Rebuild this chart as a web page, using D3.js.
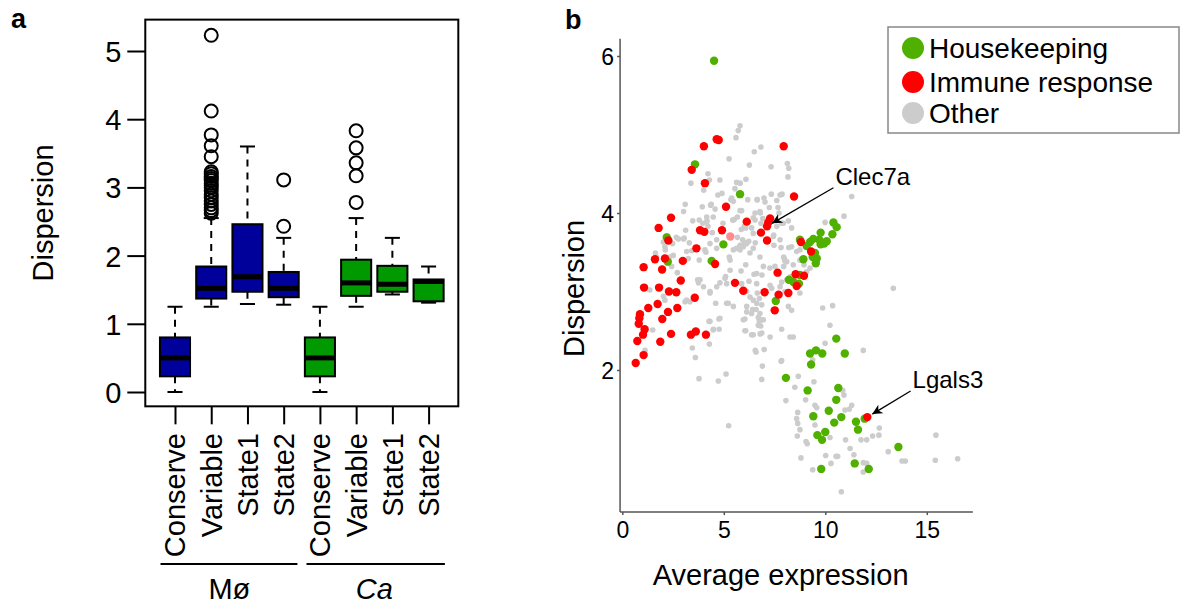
<!DOCTYPE html>
<html><head><meta charset="utf-8">
<script src="https://cdn.jsdelivr.net/npm/d3@7"></script>
<style>body{margin:0;background:#fff}svg{display:block}text{font-family:"Liberation Sans",Arial,Helvetica,sans-serif}</style>
</head><body><svg id="c" width="1183" height="605"></svg>
<script>
// ---------- Panel a data ----------
const boxCategories = ["Conserve","Variable","State1","State2","Conserve","Variable","State1","State2"];
const boxLow    = [0.00,1.25,1.29,1.28,0.00,1.25,1.43,1.31];
const boxQ1     = [0.23,1.37,1.47,1.39,0.23,1.41,1.47,1.33];
const boxMedian = [0.50,1.52,1.69,1.52,0.50,1.60,1.58,1.62];
const boxQ3     = [0.80,1.84,2.46,1.76,0.80,1.94,1.85,1.65];
const boxHigh   = [1.25,2.55,3.60,2.26,1.25,2.55,2.26,1.84];
const boxOutliers = [
  [],
  [2.62,2.66,2.70,2.75,2.80,2.85,2.90,2.95,3.00,3.03,3.06,3.10,3.13,3.16,3.20,3.23,3.45,3.61,3.77,4.12,5.23],
  [],
  [2.43,3.11],
  [],
  [2.78,3.17,3.36,3.58,3.83],
  [],
  []
];
const yTicksA = [0,1,2,3,4,5];
const groupLabels = ["Mø","Ca"];

// ---------- Panel b data ----------
const housekeeping = [[4.52,5.94],[3.58,4.62],[5.80,4.24],[2.19,3.69],[4.98,3.60],[4.40,3.39],[2.24,3.38],
[10.40,3.88],[10.56,3.82],[10.35,3.73],[10.07,3.64],[9.94,3.61],[9.77,3.60],[9.70,3.66],[9.77,3.75],[9.41,3.67],[9.25,3.63],[9.08,3.58],[9.49,3.49],[9.58,3.42],[9.38,3.44],[9.53,3.36],[8.92,3.41],[8.75,3.66],
[8.21,3.15],[8.43,3.12],[8.70,3.10],[8.75,3.21],[7.56,2.88],[10.54,2.40],
[9.25,2.21],[9.54,2.25],[9.85,2.21],[10.96,2.21],[9.30,2.07],[8.06,1.90],[9.13,1.74],[10.64,1.77],[10.54,1.62],[10.17,1.48],[9.41,1.41],[10.79,1.40],[10.44,1.33],[11.51,1.34],[11.61,1.24],[11.94,1.38],[10.00,1.21],[9.61,1.17],[9.84,1.11],[13.60,1.02],[11.45,0.81],[9.80,0.74],[12.14,0.74]];
const immune = [[4.65,4.94],[4.75,4.93],[4.02,4.85],[7.95,4.85],[3.42,4.55],[4.07,4.38],[8.46,4.21],[5.11,4.08],[2.40,3.94],[1.79,3.81],[3.83,3.78],[4.04,3.76],[4.91,3.78],[6.13,3.89],[7.28,3.93],[7.19,3.88],[7.13,3.83],[6.83,3.75],[7.13,3.65],[2.27,3.65],[3.65,3.55],[8.80,3.63],[9.30,3.51],[4.57,3.35],
[2.10,3.42],[1.61,3.41],[1.05,3.31],[1.96,3.28],[2.98,3.39],[2.88,3.14],[1.07,3.05],[1.81,3.05],[2.30,3.00],[2.66,2.99],[3.57,2.92],[1.74,2.84],[1.28,2.79],[2.71,2.79],[2.25,2.74],[1.97,2.65],[0.87,2.71],[0.84,2.66],[0.81,2.59],[1.10,2.52],[1.02,2.45],[0.74,2.37],[1.87,2.36],[2.40,2.46],[3.38,2.45],[3.62,2.49],[4.12,2.45],[1.05,2.19],[0.66,2.09],
[7.65,3.24],[5.55,3.11],[5.96,3.01],[7.01,2.99],[7.70,2.96],[8.18,2.98],[8.54,3.22],[8.95,3.20],[8.59,3.07],[7.51,2.76],[12.07,1.40]];
const immuneFaint = [[5.32,3.70]];
const other = [[5.80,5.11],[5.71,5.05],[5.60,4.96],[6.83,4.84],[6.50,4.78],[5.26,4.69],[7.33,4.59],[8.13,4.63],[8.20,4.57],[8.16,4.46],[6.26,4.61],[4.22,4.50],[4.29,4.42],[3.38,4.38],[4.01,4.29],[4.81,4.42],[5.63,4.39],[5.81,4.38],[5.55,4.31],[4.71,4.23],[4.91,4.25],[5.35,4.17],[4.38,4.11],[3.94,4.08],[3.10,4.11],[3.02,4.02],[4.57,4.05],[5.80,4.03],[6.18,4.17],[6.64,4.17],[6.98,4.19],[7.34,4.24],[7.77,4.23],[7.87,4.24],[7.24,4.07],[7.67,4.07],[7.72,4.00],[6.80,4.00],[6.45,3.94],[6.92,3.93],[5.44,3.91],[5.52,3.92],[4.96,3.87],[3.47,3.90],[3.79,3.91],[4.17,3.90],[4.22,3.83],[4.43,3.75],[3.12,3.78],[3.02,3.67],[3.30,3.62],[2.48,3.61],[2.66,3.69],[1.63,3.49],[2.12,3.53],[5.67,3.69],[5.86,3.79],[6.01,3.83],[4.65,3.66],[4.65,3.55],[5.80,3.53],[5.96,3.57],[6.04,3.62],[6.23,3.64],[6.55,3.62],[7.46,3.72],[7.82,3.56],[8.20,3.56],[4.12,3.50],[3.42,3.52],[5.27,3.44],[6.09,4.43],
[11.30,4.21],[10.92,3.96],[9.99,3.88],[13.35,3.04],[9.87,2.79],[10.36,2.82],[10.23,2.57],[7.95,3.44],[8.01,3.39],[7.95,3.32],[8.75,3.53],
[5.39,4.19],[5.47,4.15],[6.65,4.17],[7.03,4.14],[7.61,4.16],[4.35,4.10],[4.48,3.95],[4.16,3.95],[4.16,3.89],[3.96,3.87],[5.88,4.03],[5.67,3.95],[5.47,3.91],[6.08,3.81],[6.54,4.00],[6.78,4.02],[6.54,3.91],[6.37,3.81],[6.45,3.74],[6.83,3.87],[7.85,3.87],[8.18,3.90],[8.34,3.81],[7.44,3.70],[7.47,3.59],[7.77,3.66],[5.93,3.66],[5.80,3.59],[5.63,3.55],[5.47,3.53],[4.32,3.61],[4.07,3.53],[6.29,3.49],[5.31,3.40],[6.78,3.44],[6.95,3.32],[7.27,3.30],[7.52,3.32],
[3.83,3.15],[4.00,3.06],[4.32,2.98],[4.65,3.06],[5.06,3.17],[5.14,3.10],[5.88,3.10],[6.13,3.00],[6.29,2.93],[6.45,2.89],[6.62,2.85],[6.87,2.83],[6.78,2.72],[6.95,2.64],[6.70,2.57],[6.87,2.47],[7.28,3.08],[7.36,3.04],[7.77,3.06],[8.01,3.00],[6.13,2.74],[6.37,2.72],[5.96,2.64],[5.47,2.81],[5.14,2.85],[8.34,3.57],[8.59,3.51],[8.75,3.40],[8.95,3.34],[9.25,3.30],[9.08,3.25],[8.75,2.98],[8.18,2.81],[8.34,2.76],
[1.69,3.44],[2.43,3.32],[2.71,3.24],[1.36,3.02],[2.03,2.94],[2.10,2.89],[3.17,2.89],[3.33,2.87],[3.75,3.11],[4.32,3.00],[4.60,2.85],[4.27,2.62],[4.76,2.65],[4.49,2.52],[5.22,2.85],[5.09,3.19],[4.81,3.11],[5.31,3.27],[5.85,3.26],[6.08,3.34],[6.49,3.22],[6.62,3.23],[6.88,3.21],[6.24,3.13],[6.42,2.77],[6.59,2.77],[6.70,2.67],[6.75,2.62],[6.04,2.65],[6.04,2.50],[7.28,2.42],[6.55,2.25],[6.99,2.26],[6.90,2.05],[7.85,2.12],[7.85,2.52],[8.26,2.42],[8.42,2.42],[8.67,1.92],[6.87,1.88],[5.11,1.95],[4.73,1.86],[3.78,1.89],[3.60,2.16],[3.45,2.28],[6.13,2.81],[6.62,3.10],[6.65,2.98],[6.75,2.91],[7.85,3.12],[8.10,3.15],[8.30,3.19],[7.98,3.42],[8.10,3.38],[8.42,3.34],[6.45,3.55],[6.13,3.61],[5.88,3.59],[3.25,3.42],[3.17,3.51],[3.79,3.40],[3.71,3.15],[3.09,2.87],[1.50,2.51],[1.12,2.25],
[2.19,3.71],[2.02,3.63],[2.10,3.57],[2.76,3.67],[3.05,3.68],[2.32,3.44],[2.51,3.46],[7.61,3.83],[7.93,3.87],
[11.87,2.25],[9.99,2.34],[9.38,2.13],[7.82,2.11],[9.44,1.85],[8.50,1.78],[8.06,1.61],[9.03,1.62],[9.49,1.55],[9.58,1.52],[8.64,1.46],[8.59,1.38],[8.64,1.32],[8.75,1.24],[8.62,1.16],[9.05,1.09],[9.11,1.06],[9.49,1.30],[10.23,1.14],[10.86,1.74],[10.92,1.68],[11.30,1.55],[11.18,1.50],[10.97,1.49],[11.00,1.11],[11.22,1.00],[11.41,0.92],[11.76,1.11],[12.04,1.11],[12.33,1.16],[12.64,1.17],[12.66,1.26],[13.10,0.96],[10.53,0.90],[10.61,0.90],[10.02,0.91],[10.28,0.81],[9.38,0.73],[8.80,0.88],[11.87,0.82],[12.04,0.81],[11.87,0.70],[10.79,0.45],[13.78,0.84],[13.94,0.84],[15.45,1.17],[15.42,0.85],[16.52,0.87],[5.24,1.29],[6.08,2.50],[6.37,2.45],[6.45,2.45],[6.59,2.23],[4.81,2.66],[4.77,2.52],[4.48,2.51],[4.32,2.62],[4.29,2.33],[6.87,2.64],[6.82,2.56],[6.79,2.46]];
const xTicksB = [0,5,10,15];
const yTicksB = [2,4,6];
const legendLabels = ["Housekeeping","Immune response","Other"];
const annotations = [{label:"Clec7a", gene:[7.13,3.83], text:[10.5,4.36]},
                     {label:"Lgals3", gene:[12.07,1.40], text:[14.3,1.77]}];

// ---------- Drawing ----------
const svg = d3.select("#c");
const FONT = '"Liberation Sans",Arial,Helvetica,sans-serif';
const blue = "#00009a", green = "#009a00";

// Panel a scales
const xA = d3.scaleLinear().domain([1,8]).range([175,428.6]);
const yA = d3.scaleLinear().domain([0,5]).range([392,51]);
const A = svg.append("g");
const boxW = xA(1.83)-xA(1);
A.append("rect").attr("x",xA(0.18)).attr("y",yA(5.46)).attr("width",xA(8.82)-xA(0.18)).attr("height",yA(-0.21)-yA(5.46))
 .attr("fill","none").attr("stroke","#000").attr("stroke-width",2);
const yAxA = A.append("g").attr("transform",`translate(${xA(0.18)},0)`)
  .call(d3.axisLeft(yA).tickValues(yTicksA).tickSize(18).tickPadding(6).tickFormat(d3.format("d")));
yAxA.select(".domain").remove();
yAxA.selectAll("line").attr("stroke","#000").attr("stroke-width",2);
yAxA.selectAll("text").attr("font-size",29).attr("font-family",FONT).attr("fill","#000").attr("dy","0.36em");
const xIdx = boxCategories.map((d,i)=>i+1);
const xAxA = A.append("g").attr("transform",`translate(0,${yA(-0.21)})`)
  .call(d3.axisBottom(xA).tickValues(xIdx).tickSize(18).tickFormat(""));
xAxA.select(".domain").remove();
xAxA.selectAll("line").attr("stroke","#000").attr("stroke-width",2);
A.selectAll("text.cat").data(boxCategories).join("text").attr("class","cat")
  .attr("transform",(d,i)=>`translate(${xA(i+1)},433) rotate(-90)`)
  .attr("text-anchor","end").attr("dy","0.36em").attr("font-size",29).text(d=>d);
boxCategories.forEach((c,i)=>{
  const cx = xA(i+1), col = i<4?blue:green;
  const g = A.append("g");
  g.append("line").attr("x1",cx).attr("x2",cx).attr("y1",yA(boxHigh[i])).attr("y2",yA(boxQ3[i]))
   .attr("stroke","#000").attr("stroke-width",2).attr("stroke-dasharray","7,6");
  g.append("line").attr("x1",cx).attr("x2",cx).attr("y1",yA(boxQ1[i])).attr("y2",yA(boxLow[i]))
   .attr("stroke","#000").attr("stroke-width",2).attr("stroke-dasharray","7,6");
  [boxHigh[i],boxLow[i]].forEach(v=>g.append("line").attr("x1",cx-boxW/4).attr("x2",cx+boxW/4)
   .attr("y1",yA(v)).attr("y2",yA(v)).attr("stroke","#000").attr("stroke-width",2));
  g.append("rect").attr("x",cx-boxW/2).attr("width",boxW).attr("y",yA(boxQ3[i])).attr("height",yA(boxQ1[i])-yA(boxQ3[i]))
   .attr("fill",col).attr("stroke","#000").attr("stroke-width",2);
  g.append("line").attr("x1",cx-boxW/2).attr("x2",cx+boxW/2).attr("y1",yA(boxMedian[i])).attr("y2",yA(boxMedian[i]))
   .attr("stroke","#000").attr("stroke-width",5);
  g.selectAll("circle").data(boxOutliers[i]).join("circle").attr("cx",cx).attr("cy",d=>yA(d)).attr("r",6.5)
   .attr("fill","none").attr("stroke","#000").attr("stroke-width",2);
});
A.append("text").attr("transform",`translate(53,${(yA(5.46)+yA(-0.21))/2}) rotate(-90)`).attr("text-anchor","middle")
 .attr("font-size",29).text("Dispersion");
[[0.6,4.38],[4.63,8.45]].forEach((r,k)=>{
  A.append("line").attr("x1",xA(r[0])).attr("x2",xA(r[1])).attr("y1",564).attr("y2",564).attr("stroke","#000").attr("stroke-width",2);
  A.append("text").attr("x",xA(k*4+2.5)).attr("y",599).attr("text-anchor","middle").attr("font-size",29)
   .attr("font-style",k===1?"italic":"normal").text(groupLabels[k]);
});
svg.append("text").attr("x",11).attr("y",28).attr("font-size",27).attr("font-weight","bold").text("a");
svg.append("text").attr("x",565).attr("y",29).attr("font-size",27).attr("font-weight","bold").text("b");

// Panel b
const xB = d3.scaleLinear().domain([0,15]).range([622.3,926.8]);
const yB = d3.scaleLinear().domain([2,6]).range([370,56]);
const B = svg.append("g");
const axC = "#555";
B.append("line").attr("x1",xB(-0.11)).attr("x2",xB(-0.11)).attr("y1",yB(6.22)).attr("y2",yB(0.19)).attr("stroke",axC).attr("stroke-width",1.5);
B.append("line").attr("x1",xB(-0.11)).attr("x2",xB(17.27)).attr("y1",yB(0.19)).attr("y2",yB(0.19)).attr("stroke",axC).attr("stroke-width",1.5);
const yAxB = B.append("g").attr("transform",`translate(${xB(-0.11)},0)`)
 .call(d3.axisLeft(yB).tickValues(yTicksB).tickSize(3).tickPadding(3).tickFormat(d3.format("d")));
yAxB.select(".domain").remove();
yAxB.selectAll("line").attr("stroke",axC).attr("stroke-width",1.5);
yAxB.selectAll("text").attr("font-size",23).attr("font-family",FONT).attr("fill","#000").attr("dy","0.36em");
const xAxB = B.append("g").attr("transform",`translate(0,${yB(0.19)})`)
 .call(d3.axisBottom(xB).tickValues(xTicksB).tickSize(3).tickPadding(6).tickFormat(d3.format("d")));
xAxB.select(".domain").remove();
xAxB.selectAll("line").attr("stroke",axC).attr("stroke-width",1.5);
xAxB.selectAll("text").attr("font-size",23).attr("font-family",FONT).attr("fill","#000").attr("dy","0.75em");
B.append("text").attr("x",xB(7.8)).attr("y",585).attr("text-anchor","middle").attr("font-size",29).text("Average expression");
B.append("text").attr("transform",`translate(584,${(yB(6.22)+yB(0.19))/2+13}) rotate(-90)`).attr("text-anchor","middle").attr("font-size",29).text("Dispersion");

const cOther="#cccccc", cRed="#ff0000", cGreen="#4fb000";
B.append("g").selectAll("circle").data(other).join("circle").attr("cx",d=>xB(d[0])).attr("cy",d=>yB(d[1])).attr("r",2.8).attr("fill",cOther);
B.append("g").selectAll("circle").data(housekeeping).join("circle").attr("cx",d=>xB(d[0])).attr("cy",d=>yB(d[1])).attr("r",4.2).attr("fill",cGreen);
B.append("g").selectAll("circle").data(immune).join("circle").attr("cx",d=>xB(d[0])).attr("cy",d=>yB(d[1])).attr("r",4.2).attr("fill",cRed);
B.append("g").selectAll("circle").data(immuneFaint).join("circle").attr("cx",d=>xB(d[0])).attr("cy",d=>yB(d[1])).attr("r",4.2).attr("fill",cRed).attr("opacity",0.45);

svg.append("defs").append("marker").attr("id","arr").attr("viewBox","0 0 10 10").attr("refX",10).attr("refY",5)
 .attr("markerWidth",10).attr("markerHeight",10).attr("markerUnits","userSpaceOnUse").attr("orient","auto")
 .append("path").attr("d","M0,0 L10,5 L0,10 L3,5 Z").attr("fill","#000");
annotations.forEach(a=>{
  const tx=xB(a.text[0]), ty=yB(a.text[1]);
  B.append("text").attr("x",tx).attr("y",ty).attr("font-size",24).text(a.label);
  B.append("line").attr("x1",tx-2).attr("y1",ty+3).attr("x2",xB(a.gene[0])+5).attr("y2",yB(a.gene[1])-3)
   .attr("stroke","#000").attr("stroke-width",1.3).attr("marker-end","url(#arr)");
});

const L = svg.append("g");
L.append("rect").attr("x",888).attr("y",27).attr("width",291).attr("height",106).attr("fill","#fff").attr("stroke","#888").attr("stroke-width",1.5);
const legCols=[cGreen,cRed,cOther];
legendLabels.forEach((t,i)=>{
  const cy=[48,82,113][i];
  L.append("circle").attr("cx",913).attr("cy",cy).attr("r",11).attr("fill",legCols[i]);
  L.append("text").attr("x",929).attr("y",cy+10).attr("font-size",28).text(t);
});
</script></body></html>
